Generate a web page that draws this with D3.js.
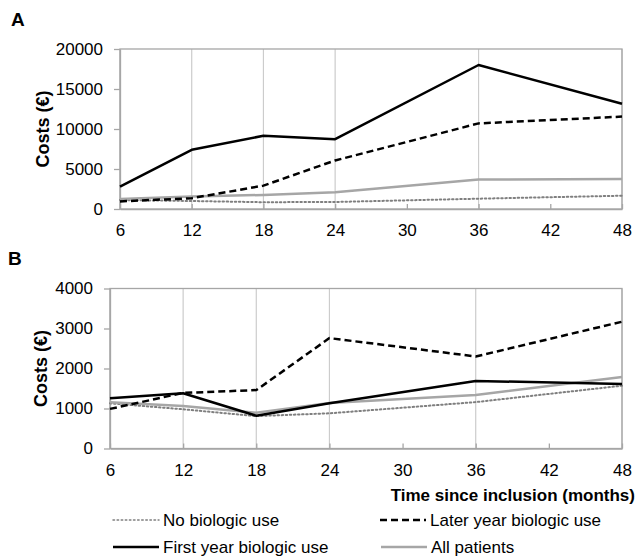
<!DOCTYPE html>
<meta charset="utf-8">
<head>
    <script src="https://d3js.org/d3.v7.min.js"></script>
    <style>
        body { margin: 0; background: #fff; }
        text { font-family: "Liberation Sans", Arial, sans-serif; }
    </style>
</head>
<body>
<div id="chart"></div>

<script>
    // months since inclusion
    const months = [6, 12, 18, 24, 36, 48]
    const xTicks = [6, 12, 18, 24, 30, 36, 42, 48]

    // panel A costs
    const a_noBiologic = [1120, 1000, 850, 880, 1290, 1660]
    const a_laterYear = [950, 1350, 2920, 6070, 10700, 11550]
    const a_firstYear = [2800, 7400, 9150, 8730, 18000, 13150]
    const a_allPatients = [1250, 1550, 1760, 2100, 3680, 3740]
    const a_yTicks = [0, 5000, 10000, 15000, 20000]

    // panel B costs
    const b_noBiologic = [1130, 980, 810, 880, 1160, 1570]
    const b_laterYear = [990, 1390, 1460, 2760, 2300, 3170]
    const b_firstYear = [1255, 1380, 820, 1130, 1690, 1610]
    const b_allPatients = [1155, 1060, 895, 1140, 1340, 1785]
    const b_yTicks = [0, 1000, 2000, 3000, 4000]

    const seriesNames = ["No biologic use", "Later year biologic use", "First year biologic use", "All patients"]

    const styles = {
        "No biologic use": { stroke: "#7f7f7f", width: 2, dash: "1.5,2.6", cap: "round" },
        "Later year biologic use": { stroke: "#000", width: 2.5, dash: "7,4", cap: "butt" },
        "First year biologic use": { stroke: "#000", width: 2.5, dash: null, cap: "butt" },
        "All patients": { stroke: "#a6a6a6", width: 2.5, dash: null, cap: "butt" }
    }

    const svg = d3.select("#chart").append("svg")
        .attr("width", 637)
        .attr("height", 558)

    function drawPanel(opts) {
        const x = d3.scaleLinear().domain([6, 48]).range([opts.left, 622])
        const y = d3.scaleLinear().domain([0, opts.yMax]).range([opts.bottom, opts.top])

        const g = svg.append("g")

        // vertical gridlines at the data months
        g.selectAll("line.grid")
            .data(months)
            .enter()
            .append("line")
            .attr("class", "grid")
            .attr("x1", d => x(d))
            .attr("x2", d => x(d))
            .attr("y1", opts.top)
            .attr("y2", opts.bottom)
            .attr("stroke", "#cccccc")
            .attr("stroke-width", 1.2)

        // frame
        g.append("rect")
            .attr("x", opts.left)
            .attr("y", opts.top)
            .attr("width", 622 - opts.left)
            .attr("height", opts.bottom - opts.top)
            .attr("fill", "none")
            .attr("stroke", "#a6a6a6")
            .attr("stroke-width", 1.3)

        const bottomAxis = d3.axisBottom(x)
            .tickValues(xTicks)
            .tickSizeInner(-5)
            .tickSizeOuter(0)
            .tickPadding(15)
            .tickFormat(d3.format("d"))
        const xg = g.append("g")
            .attr("transform", `translate(0, ${opts.bottom})`)
            .call(bottomAxis)

        const leftAxis = d3.axisLeft(y)
            .tickValues(opts.yTicks)
            .tickSizeInner(6)
            .tickSizeOuter(0)
            .tickPadding(11)
            .tickFormat(d3.format("d"))
        const yg = g.append("g")
            .attr("transform", `translate(${opts.left}, 0)`)
            .call(leftAxis)

        for (const ax of [xg, yg]) {
            ax.select(".domain").attr("stroke", "#a6a6a6").attr("stroke-width", 1.3)
            ax.selectAll(".tick line").attr("stroke", "#a6a6a6").attr("stroke-width", 1.3)
            ax.selectAll(".tick text")
                .attr("fill", "#000")
                .style("font-size", "17px")
                .style("font-family", "'Liberation Sans', Arial, sans-serif")
        }

        // y title
        g.append("text")
            .attr("transform", `translate(${opts.titleX}, ${(opts.top + opts.bottom) / 2}) rotate(-90)`)
            .attr("text-anchor", "middle")
            .attr("dy", "0.35em")
            .style("font-size", "18px")
            .style("font-weight", "bold")
            .text("Costs (€)")

        // panel letter
        g.append("text")
            .attr("x", opts.letterX)
            .attr("y", opts.letterY)
            .style("font-size", "19px")
            .style("font-weight", "bold")
            .text(opts.letter)

        const line = d3.line()
            .x((d, i) => x(months[i]))
            .y(d => y(d))

        // draw order: dotted, all patients, dashed, first year on top
        const order = ["No biologic use", "All patients", "Later year biologic use", "First year biologic use"]
        order.forEach(name => {
            const s = styles[name]
            g.append("path")
                .datum(opts.data[name])
                .attr("fill", "none")
                .attr("stroke", s.stroke)
                .attr("stroke-width", s.width)
                .attr("stroke-dasharray", s.dash)
                .attr("stroke-linecap", s.cap)
                .attr("stroke-linejoin", "round")
                .attr("d", line)
        })
    }

    drawPanel({
        letter: "A", letterX: 11, letterY: 26,
        left: 120, top: 49, bottom: 209, yMax: 20000, yTicks: a_yTicks, titleX: 43,
        data: {
            "No biologic use": a_noBiologic,
            "Later year biologic use": a_laterYear,
            "First year biologic use": a_firstYear,
            "All patients": a_allPatients
        }
    })

    drawPanel({
        letter: "B", letterX: 8, letterY: 265,
        left: 110, top: 288.5, bottom: 448.5, yMax: 4000, yTicks: b_yTicks, titleX: 41,
        data: {
            "No biologic use": b_noBiologic,
            "Later year biologic use": b_laterYear,
            "First year biologic use": b_firstYear,
            "All patients": b_allPatients
        }
    })

    // x axis title
    svg.append("text")
        .attr("x", 635)
        .attr("y", 501)
        .attr("text-anchor", "end")
        .style("font-size", "17px")
        .style("font-weight", "bold")
        .text("Time since inclusion (months)")

    // legend
    const legendPos = [
        { x: 113, y: 520 },
        { x: 380, y: 520 },
        { x: 113, y: 547 },
        { x: 381, y: 547 }
    ]
    const legend = svg.append("g")
    seriesNames.forEach((name, i) => {
        const s = styles[name]
        const p = legendPos[i]
        legend.append("line")
            .attr("x1", p.x)
            .attr("x2", p.x + 46)
            .attr("y1", p.y)
            .attr("y2", p.y)
            .attr("stroke", s.stroke)
            .attr("stroke-width", name === "No biologic use" ? 1.5 : s.width)
            .attr("stroke-dasharray", s.dash)
            .attr("stroke-linecap", s.cap)
        legend.append("text")
            .attr("x", p.x + 50)
            .attr("y", p.y)
            .attr("dy", "0.35em")
            .style("font-size", "17px")
            .text(name)
    })
</script>
</body>
